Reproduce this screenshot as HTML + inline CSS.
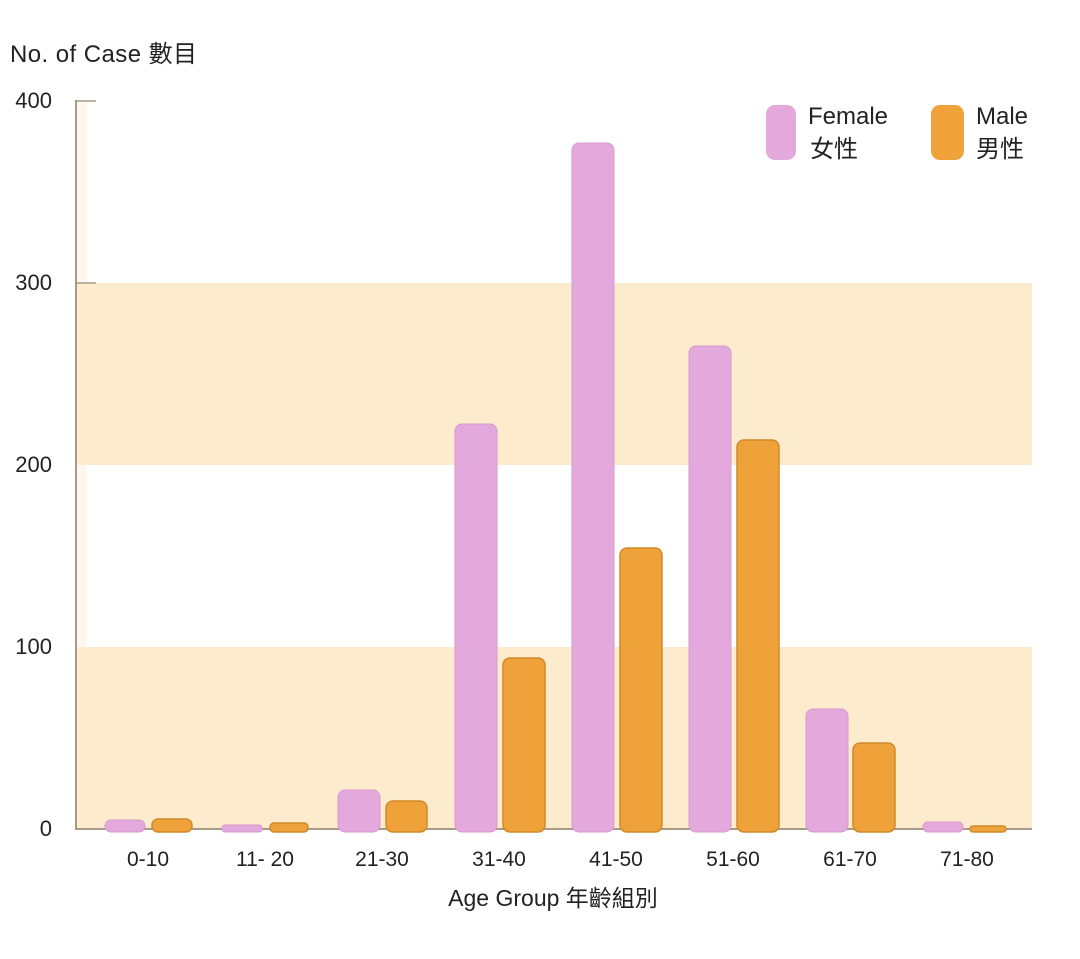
<!DOCTYPE html>
<html><head><meta charset="utf-8"><style>
body{margin:0;background:#fff;}
svg text{font-family:"Liberation Sans","Noto Sans CJK TC",sans-serif;fill:#222;}
</style></head><body>
<svg width="1080" height="954" xmlns="http://www.w3.org/2000/svg">
<rect width="1080" height="954" fill="#fff"/>
<rect x="77" y="101" width="10" height="728" fill="#fdf8ee"/>
<rect x="77" y="283" width="955" height="182" fill="#fcebcc"/>
<rect x="77" y="647" width="955" height="182" fill="#fcebcc"/>
<line x1="76" y1="100" x2="76" y2="830" stroke="#a89a85" stroke-width="2"/>
<line x1="76" y1="101" x2="96" y2="101" stroke="#a89a85" stroke-width="1.5"/>
<line x1="76" y1="283" x2="96" y2="283" stroke="#a89a85" stroke-width="1.5"/>
<line x1="76" y1="829" x2="1032" y2="829" stroke="#a89a85" stroke-width="2"/>
<g font-size="22" text-anchor="end">
<text x="52" y="108">400</text><text x="52" y="290">300</text><text x="52" y="472">200</text><text x="52" y="654">100</text><text x="52" y="836">0</text>
</g>
<text x="10" y="62" font-size="24" textLength="187">No. of Case 數目</text>
<g fill="#e3a8dc" stroke="#d79ad0" stroke-width="1">
<rect x="105" y="820" width="40" height="12" rx="6"/>
<rect x="222" y="825" width="40" height="7" rx="3"/>
<rect x="338" y="790" width="42" height="42" rx="7"/>
<rect x="455" y="424" width="42" height="408" rx="7"/>
<rect x="572" y="143" width="42" height="689" rx="7"/>
<rect x="689" y="346" width="42" height="486" rx="7"/>
<rect x="806" y="709" width="42" height="123" rx="7"/>
<rect x="923" y="822" width="40" height="10" rx="5"/>
</g>
<g fill="#f0a23a" stroke="#d08a2a" stroke-width="1.5">
<rect x="152" y="819" width="40" height="13" rx="6"/>
<rect x="270" y="823" width="38" height="9" rx="4"/>
<rect x="386" y="801" width="41" height="31" rx="7"/>
<rect x="503" y="658" width="42" height="174" rx="7"/>
<rect x="620" y="548" width="42" height="284" rx="7"/>
<rect x="737" y="440" width="42" height="392" rx="7"/>
<rect x="853" y="743" width="42" height="89" rx="7"/>
<rect x="970" y="826" width="36" height="6" rx="3"/>
</g>
<g font-size="21" text-anchor="middle">
<text x="148" y="866">0-10</text><text x="265" y="866">11- 20</text><text x="382" y="866">21-30</text><text x="499" y="866">31-40</text><text x="616" y="866">41-50</text><text x="733" y="866">51-60</text><text x="850" y="866">61-70</text><text x="967" y="866">71-80</text>
</g>
<text x="553" y="906" font-size="23" text-anchor="middle">Age Group 年齡組別</text>
<rect x="766" y="105" width="30" height="55" rx="9" fill="#e3a8dc"/>
<rect x="931" y="105" width="33" height="55" rx="9" fill="#f0a23a"/>
<g font-size="24">
<text x="808" y="124">Female</text><text x="810" y="157">女性</text>
<text x="976" y="124">Male</text><text x="976" y="157">男性</text>
</g>
</svg>
</body></html>
